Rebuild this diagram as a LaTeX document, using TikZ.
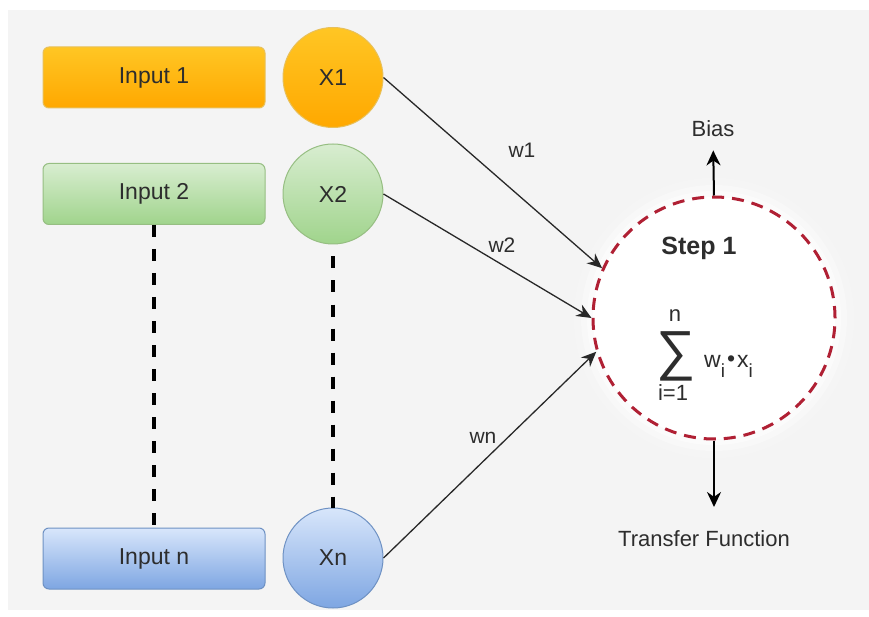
\documentclass[tikz,border=0pt]{standalone}
\usepackage{fontspec}
\setmainfont{Liberation Sans}
\usetikzlibrary{arrows.meta,shapes.geometric}
\definecolor{bgc}{RGB}{244,244,244}
\definecolor{txt}{RGB}{45,45,45}
\definecolor{orT}{RGB}{255,198,36}
\definecolor{orB}{RGB}{255,168,0}
\definecolor{orD}{RGB}{232,192,90}
\definecolor{grT}{RGB}{216,237,208}
\definecolor{grB}{RGB}{160,212,140}
\definecolor{grD}{RGB}{150,190,130}
\definecolor{blT}{RGB}{216,230,251}
\definecolor{blB}{RGB}{126,166,226}
\definecolor{blD}{RGB}{110,145,195}
\definecolor{redd}{RGB}{176,32,52}
\definecolor{arr}{RGB}{40,40,40}
\tikzset{
  inbox/.style={rounded corners=6pt, minimum width=222pt, minimum height=61pt,
    line width=1pt, inner sep=0pt, text=txt, font=\fontsize{23}{27}\selectfont},
  xnode/.style={circle, minimum size=100pt, inner sep=0pt, line width=1pt,
    text=txt, font=\fontsize{23}{27}\selectfont},
  orangefill/.style={draw=orD, top color=orT, bottom color=orB},
  greenfill/.style={draw=grD, top color=grT, bottom color=grB},
  bluefill/.style={draw=blD, top color=blT, bottom color=blB},
  vdash/.style={line width=3.5pt, dash pattern=on 12pt off 12pt, draw=black},
  conn/.style={draw=arr, line width=1.3pt, -{Stealth[length=15pt,width=13pt]}},
  outarrow/.style={draw=black, line width=2pt, -{Stealth[length=15pt,width=14pt]}},
  wlabel/.style={text=txt, font=\fontsize{21}{24}\selectfont, inner sep=0pt},
  plain/.style={text=txt, font=\fontsize{22}{26}\selectfont, inner sep=0pt}
}
\begin{document}
\begin{tikzpicture}[x=1pt,y=-1pt]
\useasboundingbox (0,0) rectangle (869,617);
\fill[white] (0,0) rectangle (869,617);
\fill[bgc] (8,10) rectangle (869,610);

% glow of neuron
\foreach \r/\o in {140/0.15,133/0.3,127/0.55}{
  \fill[white, opacity=\o] (714,318) circle (\r pt);
}
\node[circle, minimum size=242pt, inner sep=0pt, fill=white, draw=redd,
  line width=3pt, dash pattern=on 12pt off 8pt] (neuron) at (714,318) {};

% inputs
\node[inbox, orangefill] (in1) at (154,77.5) {Input 1};
\node[inbox, greenfill] (in2) at (154,194) {Input 2};
\node[inbox, bluefill] (inn) at (154,558.5) {Input n};

\node[xnode, orangefill] (x1) at (333,77.5) {X1};
\node[xnode, greenfill] (x2) at (333,194) {X2};
\node[xnode, bluefill] (xn) at (333,558) {Xn};

\draw[vdash] (in2.south) -- (inn.north);
\draw[vdash, dash phase=12pt] (x2.south) -- (xn.north);

% connections
\draw[conn] (x1.east) -- (neuron.156);
\draw[conn] (x2.east) -- (neuron.180);
\draw[conn] (xn.east) -- (neuron.196);

\node[wlabel] (w1) at (522,150) {w1};
\node[wlabel] (w2) at (502,245) {w2};
\node[wlabel] (wn) at (483,438) {wn};

% bias and transfer
\node[plain, anchor=base] (bias) at (713,137) {Bias};
\node[plain, anchor=north] (tf) at (704,530) {Transfer Function};
\draw[outarrow, shorten >=13pt] (neuron.north) -- (bias.south);
\draw[outarrow, shorten >=23pt] (neuron.south) -- (neuron.south |- tf.north);

% step 1 and sum
\node[text=txt, font=\fontsize{25}{29}\selectfont\bfseries, inner sep=0pt] (step) at (699,248) {Step 1};
\node[text=txt, font=\fontsize{55}{60}\selectfont, inner sep=0pt] (sig) at (676,356) {∑};
\node[plain] (up) at (675,316) {n};
\node[plain] (low) at (673,393) {i=1};
\node[plain, anchor=base west, font=\fontsize{23}{27}\selectfont] (expr) at (704,367)
  {w\raisebox{-10pt}{\fontsize{19}{19}\selectfont i}\hspace{2pt}\raisebox{1pt}{•}\hspace{2pt}x\raisebox{-10pt}{\fontsize{19}{19}\selectfont i}};
\end{tikzpicture}
\end{document}
